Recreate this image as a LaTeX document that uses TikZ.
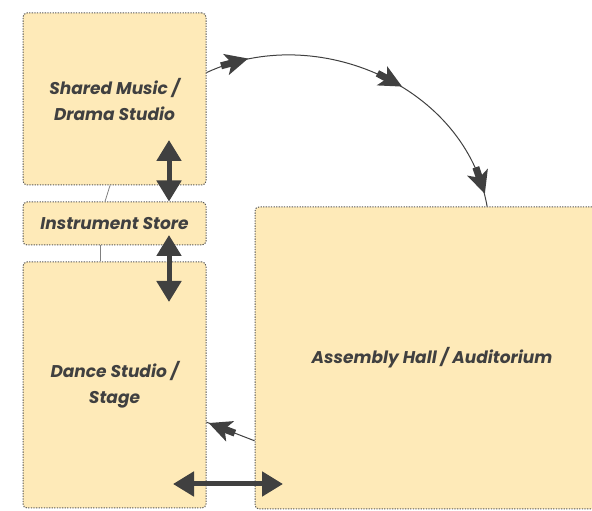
\documentclass[tikz,border=0pt]{standalone}
\usepackage{fontspec}
\newfontfamily\roomfont{Poppins}
\usepackage{xcolor}
\usetikzlibrary{arrows.meta,decorations.markings}
\definecolor{roomfill}{HTML}{FEEAB8}
\definecolor{roomline}{HTML}{5A5A5A}
\definecolor{arrowgray}{HTML}{404040}

% notched head with a short stub behind it, used along the flow lines
\newcommand{\flowtip}{\fill[arrowgray] (12pt,0pt) -- (-11pt,11pt) -- (-5pt,0pt) -- (-11pt,-11pt) -- cycle;
  \fill[arrowgray] (-16pt,-3.5pt) rectangle (-4pt,3.5pt);}

\begin{document}
\begin{tikzpicture}[x=1pt, y=1pt,
  room/.style={draw=roomline, fill=roomfill, rounded corners=4pt, line width=1pt,
    dash pattern=on 1.3pt off 1.3pt, align=center, inner sep=0pt,
    font=\roomfont\bfseries\itshape\fontsize{17}{26}\selectfont, text=arrowgray},
  link/.style={draw=gray, line width=0.8pt},
  dbl/.style={{Triangle[length=21pt,width=24pt]}-{Triangle[length=21pt,width=24pt]}, line width=5pt, draw=arrowgray},
  midtip/.style={line width=1pt, draw=arrowgray, postaction={decorate},
    decoration={markings, mark=at position #1 with {\flowtip}}},
  flow/.style={line width=1pt, draw=arrowgray, postaction={decorate},
    decoration={markings,
      mark=at position 0.09 with {\flowtip},
      mark=at position 0.54 with {\flowtip},
      mark=at position 0.93 with {\flowtip}}}
]
\useasboundingbox (0,0) rectangle (592,511);

% Rooms
\node[room, minimum width=183pt, minimum height=172pt] (music) at (114.5,412) {Shared Music /\\Drama Studio};
\node[room, minimum width=183pt, minimum height=43pt]  (store) at (114.5,287.5) {Instrument Store};
\node[room, minimum width=183pt, minimum height=246pt] (dance) at (114.5,126) {Dance Studio /\\Stage};
\node[room, minimum width=354pt, minimum height=302pt] (hall)  at (432,153) {Assembly Hall / Auditorium};

% Free ends of the thick links
\coordinate (musicin) at (169,371);
\coordinate (storein) at (169,276);
\coordinate (dancein) at (169,209);
\coordinate (dancebot) at (173,27);
\coordinate (hallbot) at (283,27);

% Thin links
\draw[link] ([xshift=-4.5pt]music.south) -- ([xshift=-9.5pt]store.north);
\draw[link] ([xshift=-14.5pt]store.south) -- ([xshift=-14.5pt]dance.north);

% Arrows
\draw[flow] (music.16) to[out=25,in=100] (hall.70);
\draw[midtip=0.72] (hall.205) -- (dance.338.5);
\draw[dbl] (musicin) -- ([xshift=54.5pt]store.north);
\draw[dbl] (storein) -- (dancein);
\draw[dbl] (dancebot) -- (hallbot);

\end{tikzpicture}
\end{document}
